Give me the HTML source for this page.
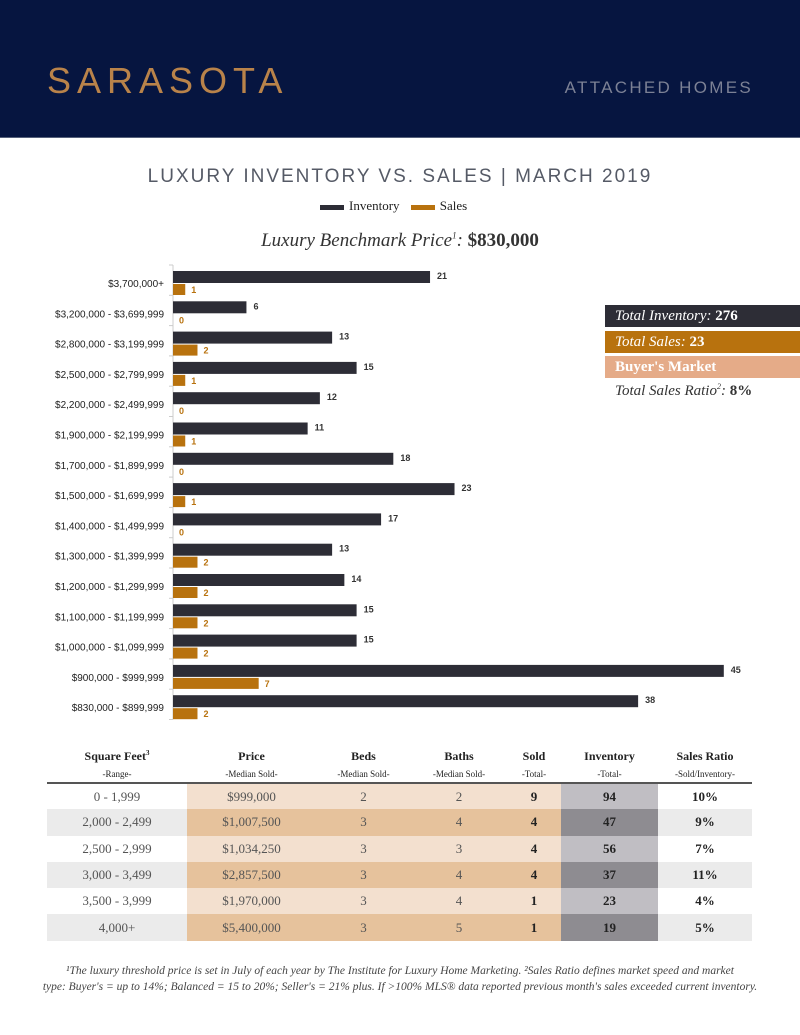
<!DOCTYPE html>
<html><head><meta charset="utf-8">
<style>
body{margin:0;width:800px;height:1035px;background:#fff;position:relative;overflow:hidden;font-family:"Liberation Serif",serif}
.hdr{position:absolute;left:0;top:0;width:800px;height:137px;background:#061540;border-bottom:1px solid #55607a}
.abs{position:absolute}
table{border-collapse:collapse}
</style></head><body>
<div class="hdr">
 <div class="abs" style="left:47px;top:60px;font-family:'Liberation Sans',sans-serif;font-size:36px;letter-spacing:6px;color:#b9834a">SARASOTA</div>
 <div class="abs" style="right:47px;top:78px;font-family:'Liberation Sans',sans-serif;font-size:17px;letter-spacing:2.3px;color:#7c8195">ATTACHED HOMES</div>
</div>
<div class="abs" style="left:0;width:800px;top:166px;text-align:center;font-family:'Liberation Sans',sans-serif;font-size:19px;letter-spacing:2px;color:#555a66">LUXURY INVENTORY VS. SALES | MARCH 2019</div>
<div class="abs" style="left:320px;top:198px;font-size:13px;color:#222">
 <span><span style="display:inline-block;width:24px;height:5px;background:#2d2d36;vertical-align:middle;margin-right:5px"></span>Inventory</span>
 <span style="margin-left:8px"><span style="display:inline-block;width:24px;height:5px;background:#b8720e;vertical-align:middle;margin-right:5px"></span>Sales</span>
</div>
<div class="abs" style="left:0;width:800px;top:230px;text-align:center;font-size:19px;color:#333"><i>Luxury Benchmark Price<sup style="font-size:9px">1</sup>:</i> <b>$830,000</b></div>

<svg class="abs" style="left:0;top:0" width="800" height="735" id="chart"></svg>

<div class="abs" style="left:605px;top:305px;width:195px;height:22px;background:#2d2d36;color:#fff;font-size:15px;line-height:22px;padding-left:10px;box-sizing:border-box"><i>Total Inventory:</i> <b>276</b></div>
<div class="abs" style="left:605px;top:331px;width:195px;height:22px;background:#b8720e;color:#fff;font-size:15px;line-height:22px;padding-left:10px;box-sizing:border-box"><i>Total Sales:</i> <b>23</b></div>
<div class="abs" style="left:605px;top:356px;width:195px;height:22px;background:#e5ab88;color:#fff;font-size:15px;line-height:22px;padding-left:10px;box-sizing:border-box"><b>Buyer's Market</b></div>
<div class="abs" style="left:615px;top:382px;font-size:15px;color:#333"><i>Total Sales Ratio<sup style="font-size:8px">2</sup>:</i> <b>8%</b></div>

<div class="abs" style="left:47px;top:747px">
<table id="tbl" style="width:705px;font-size:13px;text-align:center;color:#444">
<colgroup><col style="width:140px"><col style="width:129px"><col style="width:95px"><col style="width:96px"><col style="width:54px"><col style="width:97px"><col style="width:94px"></colgroup>
<tr style="height:19px;font-weight:bold;color:#222;font-size:12px"><td>Square Feet<sup style="font-size:7px">3</sup></td><td>Price</td><td>Beds</td><td>Baths</td><td>Sold</td><td>Inventory</td><td>Sales Ratio</td></tr>
<tr style="height:17px;font-size:9px;color:#222;border-bottom:2px solid #555"><td>-Range-</td><td>-Median Sold-</td><td>-Median Sold-</td><td>-Median Sold-</td><td>-Total-</td><td>-Total-</td><td>-Sold/Inventory-</td></tr>
</table></div>

<div class="abs" style="left:20px;width:760px;top:963px;text-align:center;font-size:11.5px;line-height:16px;color:#444;font-style:italic;white-space:nowrap">¹The luxury threshold price is set in July of each year by The Institute for Luxury Home Marketing. ²Sales Ratio defines market speed and market<br>type: Buyer's = up to 14%; Balanced = 15 to 20%; Seller's = 21% plus. If &gt;100% MLS® data reported previous month's sales exceeded current inventory.</div>

<script>
const categories=["$3,700,000+","$3,200,000 - $3,699,999","$2,800,000 - $3,199,999","$2,500,000 - $2,799,999","$2,200,000 - $2,499,999","$1,900,000 - $2,199,999","$1,700,000 - $1,899,999","$1,500,000 - $1,699,999","$1,400,000 - $1,499,999","$1,300,000 - $1,399,999","$1,200,000 - $1,299,999","$1,100,000 - $1,199,999","$1,000,000 - $1,099,999","$900,000 - $999,999","$830,000 - $899,999"];
const inventory=[21,6,13,15,12,11,18,23,17,13,14,15,15,45,38];
const sales=[1,0,2,1,0,1,0,1,0,2,2,2,2,7,2];
const rangeCol=["0 - 1,999","2,000 - 2,499","2,500 - 2,999","3,000 - 3,499","3,500 - 3,999","4,000+"];
const priceCol=["$999,000","$1,007,500","$1,034,250","$2,857,500","$1,970,000","$5,400,000"];
const bedsCol=["2","3","3","3","3","3"];
const bathsCol=["2","4","3","4","4","5"];
const soldCol=["9","4","4","4","1","1"];
const invCol=["94","47","56","37","23","19"];
const ratioCol=["10%","9%","7%","11%","4%","5%"];

const NS="http://www.w3.org/2000/svg";
const svg=document.getElementById('chart');
const x0=173,pxPer=12.24,top0=265,rowH=30.3;
const xs=v=>x0+v*pxPer;
const ys=i=>top0+i*rowH;
function mk(t,a){const e=document.createElementNS(NS,t);for(const k in a)e.setAttribute(k,a[k]);svg.appendChild(e);return e;}
let ax=mk('line',{x1:x0,y1:ys(0),x2:x0,y2:ys(categories.length),stroke:'#ccc','stroke-width':1});


for(let i=0;i<=categories.length;i++){
 const t=mk('line',{x1:x0-4,y1:ys(i),x2:x0,y2:ys(i),stroke:'#ccc'});
 
 
}
categories.forEach((c,i)=>{
 const y=ys(i);
 const l=mk('text',{x:164,y:y+22,'text-anchor':'end','font-size':'10','font-family':'Liberation Sans,sans-serif',fill:'#222'});
 l.textContent=c;
 
 
 const b=mk('rect',{x:x0,y:y+6,width:Math.max(0,xs(inventory[i])-x0),height:12,fill:'#2d2d36'});
 
 
 const bl=mk('text',{x:xs(inventory[i])+7,y:y+14,'font-size':'9','font-weight':'bold','font-family':'Liberation Sans,sans-serif',fill:'#333'});
 bl.textContent=inventory[i];
 
 
 const s=mk('rect',{x:x0,y:y+19,width:Math.max(0,xs(sales[i])-x0),height:11,fill:'#b8720e'});
 
 
 const sl=mk('text',{x:xs(sales[i])+6,y:y+28,'font-size':'9','font-weight':'bold','font-family':'Liberation Sans,sans-serif',fill:'#b8720e'});
 sl.textContent=sales[i];
 
 
});

const tbl=document.getElementById('tbl');
rangeCol.forEach((r,i)=>{
 const odd=i%2===1;
 const tr=document.createElement('tr');
 
 
 tr.style.height='26.3px';
 const peach=odd?'#e6c29c':'#f3e0cf';
 const gray=odd?'#ebebeb':'#fff';
 const cells=[[r,gray,'normal','#555'],[priceCol[i],peach,'normal','#555'],[bedsCol[i],peach,'normal','#555'],[bathsCol[i],peach,'normal','#555'],[soldCol[i],peach,'bold','#222'],[invCol[i],odd?'#8e8c91':'#c0bec3','bold','#222'],[ratioCol[i],gray,'bold','#222']];
 cells.forEach(c=>{const td=document.createElement('td');td.textContent=c[0];td.style.background=c[1];td.style.fontWeight=c[2];td.style.color=c[3];tr.appendChild(td);});
 tbl.appendChild(tr);
});
</script>
</body></html>
